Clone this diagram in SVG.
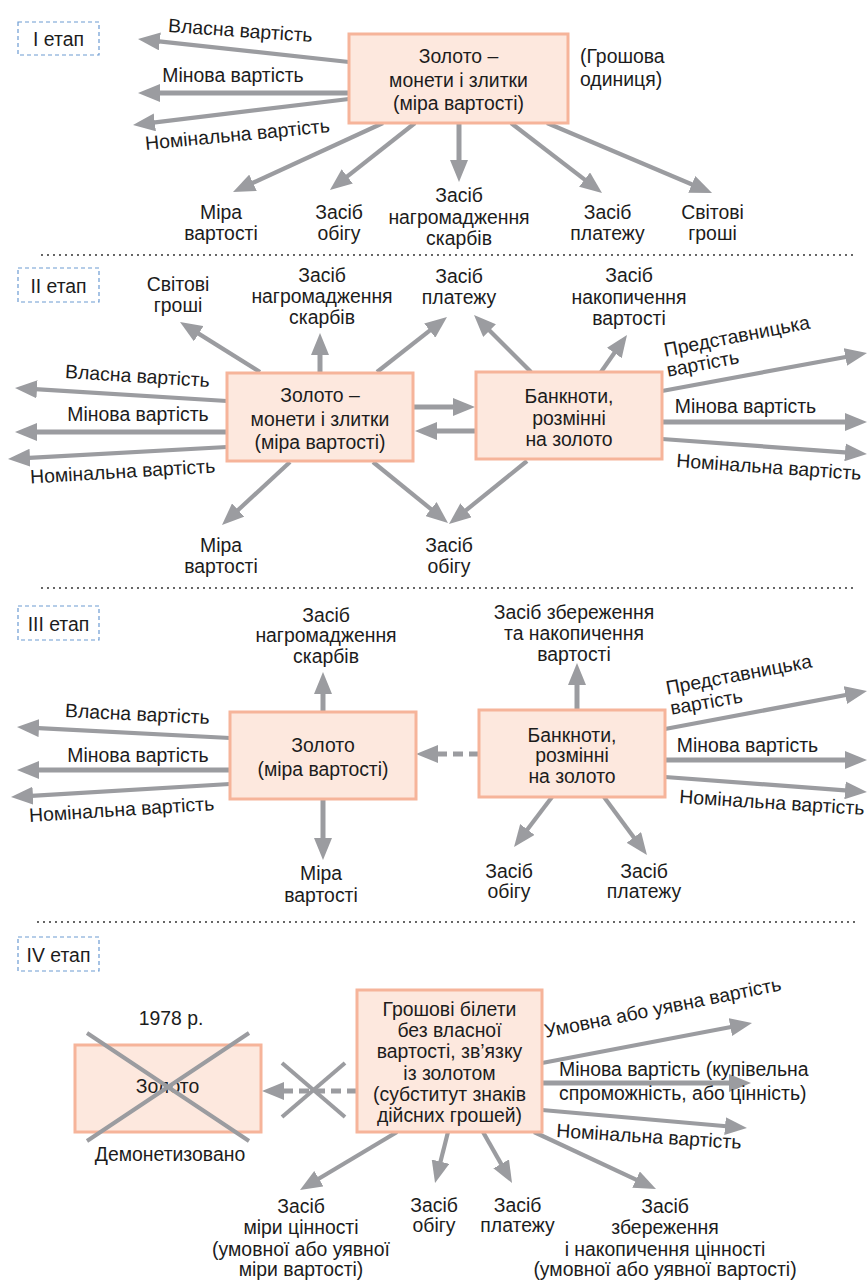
<svg xmlns="http://www.w3.org/2000/svg" width="868" height="1281" viewBox="0 0 868 1281">
<style>
text{font-family:"Liberation Sans",Arial,sans-serif;font-size:19.4px;fill:#1c1c1c}
.m{text-anchor:middle}
.box{fill:#fde8de;stroke:#f6b49a;stroke-width:3}
.stage{fill:none;stroke:#6c9bd2;stroke-width:1.2;stroke-dasharray:4 3}
.a{stroke:#9b9ca0;stroke-width:5;fill:none;marker-end:url(#ah)}
.t{stroke:#9b9ca0;stroke-width:4.2;fill:none;marker-end:url(#ah)}
.d{stroke:#9b9ca0;stroke-width:5;fill:none;stroke-dasharray:10 6;marker-end:url(#ah)}
.x{stroke:#9b9ca0;stroke-width:4;fill:none}
.sep{stroke:#333;stroke-width:2;stroke-dasharray:0 6;stroke-linecap:round}
</style>
<defs>
<marker id="ah" viewBox="0 0 22 18" refX="10" refY="9" markerWidth="22" markerHeight="18" markerUnits="userSpaceOnUse" orient="auto"><path d="M0,0 L22,9 L0,18 z" fill="#9b9ca0"/></marker>
</defs>
<rect width="868" height="1281" fill="#fff"/>
<g id="separators">
<line class="sep" x1="42" y1="255" x2="857" y2="255"/>
<line class="sep" x1="42" y1="588" x2="857" y2="588"/>
<line class="sep" x1="38" y1="922" x2="855" y2="922"/>
</g>
<g id="connectors">
<!-- I -->
<line class="t" x1="349" y1="62" x2="149.9" y2="40.3"/>
<line class="a" x1="349" y1="93" x2="150" y2="93"/>
<line class="t" x1="349" y1="99" x2="144.9" y2="123.6"/>
<line class="t" x1="383" y1="123" x2="243.9" y2="187"/>
<line class="t" x1="415" y1="123" x2="339.4" y2="182.6"/>
<line class="a" x1="459" y1="123" x2="459" y2="170"/>
<line class="t" x1="511" y1="123" x2="592.5" y2="185.7"/>
<line class="t" x1="547" y1="123" x2="701" y2="188.3"/>
<!-- II -->
<line class="t" x1="227" y1="401" x2="27" y2="388.7"/>
<line class="a" x1="227" y1="432" x2="27" y2="432"/>
<line class="t" x1="227" y1="447" x2="20" y2="458.3"/>
<line class="t" x1="260" y1="372" x2="190.2" y2="328.4"/>
<line class="a" x1="320" y1="373" x2="320" y2="345"/>
<line class="t" x1="377" y1="372" x2="437.6" y2="324.4"/>
<line class="t" x1="531" y1="372" x2="482.5" y2="323.5"/>
<line class="t" x1="601" y1="372" x2="620.1" y2="344.8"/>
<line class="a" x1="413" y1="407" x2="463" y2="407"/>
<line class="a" x1="476" y1="431" x2="427" y2="431"/>
<line class="t" x1="662" y1="391" x2="855.2" y2="355.2"/>
<line class="a" x1="662" y1="422" x2="855" y2="422"/>
<line class="t" x1="662" y1="439" x2="855" y2="453.1"/>
<line class="t" x1="290" y1="462" x2="230.8" y2="516.8"/>
<line class="t" x1="373" y1="462" x2="438.7" y2="515.4"/>
<line class="t" x1="527" y1="461" x2="458.3" y2="516.5"/>
<!-- III -->
<line class="t" x1="230" y1="738" x2="29" y2="727.6"/>
<line class="a" x1="230" y1="770" x2="29" y2="770"/>
<line class="t" x1="230" y1="784" x2="23" y2="796.3"/>
<line class="a" x1="323" y1="712" x2="323" y2="684"/>
<line class="a" x1="323" y1="799" x2="323" y2="848"/>
<line class="d" x1="479" y1="754" x2="428" y2="754"/>
<line class="a" x1="577" y1="710" x2="577" y2="675"/>
<line class="t" x1="665" y1="729" x2="855.2" y2="693.2"/>
<line class="a" x1="665" y1="760" x2="855" y2="760"/>
<line class="t" x1="665" y1="777" x2="855" y2="791.1"/>
<line class="t" x1="552" y1="797" x2="521.3" y2="837.4"/>
<line class="t" x1="604" y1="797" x2="639.8" y2="845.4"/>
<!-- IV -->
<line class="d" x1="357" y1="1091" x2="274" y2="1091"/>
<line class="x" x1="282" y1="1063" x2="345" y2="1117"/>
<line class="x" x1="345" y1="1063" x2="282" y2="1117"/>
<line class="t" x1="542" y1="1063" x2="740.2" y2="1025.2"/>
<line class="a" x1="542" y1="1083" x2="739" y2="1083"/>
<line class="t" x1="542" y1="1110" x2="735" y2="1127"/>
<line class="t" x1="534" y1="1132" x2="645.1" y2="1183.9"/>
<line class="t" x1="397" y1="1132" x2="310.3" y2="1183.8"/>
<line class="t" x1="448" y1="1132" x2="438" y2="1171.4"/>
<line class="t" x1="483" y1="1132" x2="506.1" y2="1172.6"/>
</g>
<g id="edge-labels">
<text class="m" transform="translate(240,37) rotate(4)">Власна вартість</text>
<text class="m" x="233" y="82">Мінова вартість</text>
<text class="m" transform="translate(238,141) rotate(-5.5)">Номінальна вартість</text>
<text class="m" transform="translate(137,382.5) rotate(3.6)">Власна вартість</text>
<text class="m" x="138" y="421">Мінова вартість</text>
<text class="m" transform="translate(123,478) rotate(-3.4)">Номінальна вартість</text>
<text class="m" transform="translate(738,342.5) rotate(-11)">Представницька</text>
<text class="m" transform="translate(704,370) rotate(-10.7)">вартість</text>
<text class="m" x="745.5" y="413">Мінова вартість</text>
<text class="m" transform="translate(768.5,473.5) rotate(4)">Номінальна вартість</text>
<text class="m" transform="translate(137,720.5) rotate(2.8)">Власна вартість</text>
<text class="m" x="138" y="762">Мінова вартість</text>
<text class="m" transform="translate(122,816) rotate(-3.7)">Номінальна вартість</text>
<text class="m" transform="translate(740,681) rotate(-10.7)">Представницька</text>
<text class="m" transform="translate(707.5,708.5) rotate(-10)">вартість</text>
<text class="m" x="747.5" y="752">Мінова вартість</text>
<text class="m" transform="translate(771.5,809) rotate(3.7)">Номінальна вартість</text>
<text class="m" transform="translate(664,1014) rotate(-11.4)">Умовна або уявна вартість</text>
<text x="559" y="1076">Мінова вартість (купівельна</text>
<text x="559" y="1100">спроможність, або цінність)</text>
<text class="m" transform="translate(648.5,1143) rotate(3.7)">Номінальна вартість</text>
</g>
<g id="stage-1"><rect class="stage" x="18" y="22" width="81" height="33"/><text class="m" x="58.5" y="46">I етап</text></g>
<g id="stage-2"><rect class="stage" x="18" y="268" width="81" height="34"/><text class="m" x="58.5" y="293">II етап</text></g>
<g id="stage-3"><rect class="stage" x="18" y="606" width="81" height="34"/><text class="m" x="58.5" y="631">III етап</text></g>
<g id="stage-4"><rect class="stage" x="18" y="937" width="81" height="34"/><text class="m" x="58.5" y="962">IV етап</text></g>
<g id="n1-gold"><rect class="box" x="349" y="34" width="219" height="89"/>
<text class="m" x="458.5" y="63">Золото –</text><text class="m" x="458.5" y="86.5">монети і злитки</text><text class="m" x="458.5" y="110">(міра вартості)</text></g>
<g id="n1-unit"><text x="580" y="63">(Грошова</text><text x="580" y="86">одиниця)</text></g>
<g id="n1-measure"><text class="m" x="221" y="219">Міра</text><text class="m" x="221" y="240">вартості</text></g>
<g id="n1-circ"><text class="m" x="339" y="219">Засіб</text><text class="m" x="339" y="240">обігу</text></g>
<g id="n1-hoard"><text class="m" x="459" y="202">Засіб</text><text class="m" x="459" y="224">нагромадження</text><text class="m" x="459" y="245">скарбів</text></g>
<g id="n1-pay"><text class="m" x="607.5" y="219">Засіб</text><text class="m" x="607.5" y="240">платежу</text></g>
<g id="n1-world"><text class="m" x="712.5" y="219">Світові</text><text class="m" x="712.5" y="240">гроші</text></g>
<g id="n2-gold"><rect class="box" x="227" y="373" width="186" height="88"/>
<text class="m" x="320" y="402">Золото –</text><text class="m" x="320" y="425.5">монети і злитки</text><text class="m" x="320" y="449">(міра вартості)</text></g>
<g id="n2-notes"><rect class="box" x="476" y="372" width="186" height="87"/>
<text class="m" x="569" y="403">Банкноти,</text><text class="m" x="569" y="424.5">розмінні</text><text class="m" x="569" y="446">на золото</text></g>
<g id="n2-world"><text class="m" x="178" y="291">Світові</text><text class="m" x="178" y="312">гроші</text></g>
<g id="n2-hoard"><text class="m" x="322" y="282">Засіб</text><text class="m" x="322" y="303">нагромадження</text><text class="m" x="322" y="324">скарбів</text></g>
<g id="n2-pay"><text class="m" x="459" y="283">Засіб</text><text class="m" x="459" y="304">платежу</text></g>
<g id="n2-accum"><text class="m" x="629" y="282">Засіб</text><text class="m" x="629" y="303.5">накопичення</text><text class="m" x="629" y="325">вартості</text></g>
<g id="n2-measure"><text class="m" x="221" y="552">Міра</text><text class="m" x="221" y="573">вартості</text></g>
<g id="n2-circ"><text class="m" x="449" y="552">Засіб</text><text class="m" x="449" y="573">обігу</text></g>
<g id="n3-gold"><rect class="box" x="230" y="712" width="186" height="87"/>
<text class="m" x="323" y="752">Золото</text><text class="m" x="323" y="776">(міра вартості)</text></g>
<g id="n3-notes"><rect class="box" x="479" y="710" width="186" height="87"/>
<text class="m" x="572" y="742">Банкноти,</text><text class="m" x="572" y="762">розмінні</text><text class="m" x="572" y="782.5">на золото</text></g>
<g id="n3-hoard"><text class="m" x="326" y="621.5">Засіб</text><text class="m" x="326" y="642">нагромадження</text><text class="m" x="326" y="662.5">скарбів</text></g>
<g id="n3-save"><text class="m" x="574" y="619">Засіб збереження</text><text class="m" x="574" y="640">та накопичення</text><text class="m" x="574" y="661">вартості</text></g>
<g id="n3-measure"><text class="m" x="321" y="880">Міра</text><text class="m" x="321" y="901.5">вартості</text></g>
<g id="n3-circ"><text class="m" x="509" y="877.5">Засіб</text><text class="m" x="509" y="898">обігу</text></g>
<g id="n3-pay"><text class="m" x="644" y="877.5">Засіб</text><text class="m" x="644" y="898">платежу</text></g>
<g id="n4-gold"><text class="m" x="171" y="1025">1978 р.</text>
<rect class="box" x="75" y="1045" width="186" height="87"/>
<text class="m" x="167.5" y="1093">Золото</text>
<line class="x" x1="87" y1="1033" x2="249" y2="1141"/><line class="x" x1="249" y1="1033" x2="87" y2="1141"/>
<text class="m" x="170" y="1161">Демонетизовано</text></g>
<g id="n4-notes"><rect class="box" x="357" y="990" width="185" height="142"/>
<text class="m" x="449.5" y="1016">Грошові білети</text><text class="m" x="449.5" y="1037.2">без власної</text><text class="m" x="449.5" y="1058.4">вартості, зв’язку</text><text class="m" x="449.5" y="1079.6">із золотом</text><text class="m" x="449.5" y="1100.8">(субститут знаків</text><text class="m" x="449.5" y="1122">дійсних грошей)</text></g>
<g id="n4-measure"><text class="m" x="301" y="1213">Засіб</text><text class="m" x="301" y="1234.3">міри цінності</text><text class="m" x="301" y="1255.6">(умовної або уявної</text><text class="m" x="301" y="1276">міри вартості)</text></g>
<g id="n4-circ"><text class="m" x="434" y="1212">Засіб</text><text class="m" x="434" y="1232">обігу</text></g>
<g id="n4-pay"><text class="m" x="517.5" y="1212">Засіб</text><text class="m" x="517.5" y="1232">платежу</text></g>
<g id="n4-save"><text class="m" x="665" y="1213">Засіб</text><text class="m" x="665" y="1234">збереження</text><text class="m" x="665" y="1255.5">і накопичення цінності</text><text class="m" x="665" y="1275.5">(умовної або уявної вартості)</text></g>
</svg>
